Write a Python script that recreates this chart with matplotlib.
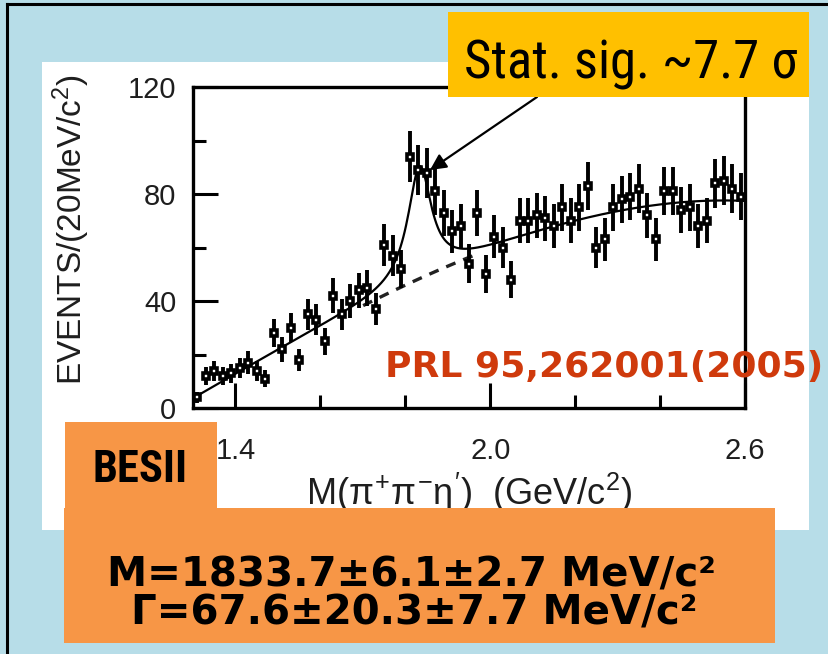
import numpy as np
import matplotlib
matplotlib.use("Agg")
import matplotlib.pyplot as plt
from matplotlib.patches import Rectangle
from matplotlib.lines import Line2D
from matplotlib import font_manager

W, H = 829, 654

# 20 MeV bins of M(pi+ pi- eta') between 1.30 and 2.60 GeV
bin_lo, bin_hi, bin_w = 1.30, 2.60, 0.02
events = [4, 12, 14, 12, 13, 15, 17, 14, 11, 28,
          22, 30, 18, 35, 33, 25, 42, 35, 40, 44,
          45, 37, 61, 57, 52, 94, 89, 88, 81, 73,
          66, 68, 54, 73, 50, 64, 60, 48, 70, 70,
          72, 71, 68, 75, 70, 75, 83, 60, 63, 75,
          78, 79, 82, 72, 63, 81, 81, 74, 75, 68,
          70, 84, 85, 82, 79]

# fitted resonance (values quoted on the slide) and background
res_mass, res_width, res_height = 1833.7, 67.6, 42.0
bkg_m = [1.30, 1.40, 1.48, 1.60, 1.73, 1.76, 1.89, 1.98, 2.23, 2.40, 2.60]
bkg_n = [5, 11, 19, 30, 40, 43, 54, 59, 70, 75, 78]

xticks_major = [1.4, 2.0, 2.6]
xticks_minor = [1.6, 1.8, 2.2, 2.4]
yticks_major = [0, 40, 80, 120]
yticks_minor = [20, 60, 100]

mass_line = "M=1833.7±6.1±2.7 MeV/c²"
width_line = "Γ=67.6±20.3±7.7 MeV/c²"


def pick(*names):
    for n in names:
        try:
            font_manager.findfont(font_manager.FontProperties(family=n),
                                  fallback_to_default=False)
            return n
        except ValueError:
            pass
    return "DejaVu Sans"


narrow = pick("Liberation Sans Narrow", "Roboto Condensed", "Roboto")
sans = pick("Liberation Sans", "DejaVu Sans")

plt.rcParams["font.family"] = [sans, "DejaVu Sans"]
plt.rcParams["mathtext.fontset"] = "custom"
plt.rcParams["mathtext.rm"] = sans
plt.rcParams["mathtext.it"] = sans


def fx(x):
    return x / W


def fy(y):
    return 1 - y / H


def box(fig, x0, y0, x1, y1, color, z):
    fig.add_artist(Rectangle((fx(x0), fy(y1)), (x1 - x0) / W, (y1 - y0) / H,
                             transform=fig.transFigure, facecolor=color,
                             edgecolor="none", zorder=z))


fig = plt.figure(figsize=(W / 100, H / 100), dpi=100)
fig.patch.set_facecolor("#b7dde8")
fig.add_artist(Line2D([fx(7), fx(7)], [0, fy(4)], color="black", lw=2.2))
fig.add_artist(Line2D([fx(7), 1], [fy(4), fy(4)], color="black", lw=2.2))
box(fig, 42, 62, 809, 530, "white", -1)

ax = fig.add_axes([fx(193), fy(408), (745 - 193) / W, (408 - 87) / H])
ax.set_facecolor("white")

centres = np.round(np.arange(bin_lo + bin_w / 2, bin_hi, bin_w), 3)
counts = np.array(events, dtype=float)

m = np.linspace(bin_lo, bin_hi, 400)
bkg = np.polyval(np.polyfit(bkg_m, bkg_n, 3), m)
half = res_width / 2000.0
sig = res_height * half ** 2 / ((m - res_mass / 1000.0) ** 2 + half ** 2)
ax.plot(m, bkg + sig, color="black", lw=1.6, zorder=2)
dash = (m > 1.70) & (m < 1.97)
ax.plot(m[dash], bkg[dash], color="#222222", lw=2.4, ls=(0, (3, 2.5)), zorder=2)

ax.errorbar(centres, counts, yerr=np.sqrt(counts), fmt="s", ms=4.8,
            mfc="white", mec="black", mew=2.6, ecolor="black",
            elinewidth=2.8, capsize=0, zorder=3)

ax.set_xlim(bin_lo, bin_hi)
ax.set_ylim(0, 120)
ax.set_xticks(xticks_major)
ax.set_xticks(xticks_minor, minor=True)
ax.set_yticks(yticks_major)
ax.set_yticks(yticks_minor, minor=True)
ax.set_xticklabels([f"{v:.1f}" for v in xticks_major])
ax.tick_params(which="both", direction="in", width=2.2, color="black",
               labelsize=21, labelcolor="#1e1e1e")
ax.tick_params(which="major", length=18)
ax.tick_params(which="minor", length=9.5)
ax.tick_params(axis="x", pad=21)
ax.tick_params(axis="y", pad=12)
for s in ax.spines.values():
    s.set_linewidth(2.4)

fig.text(fx(71), fy(230), r"EVENTS/(20MeV/c$^2$)", rotation=90,
         ha="center", va="center", fontsize=24, color="#1e1e1e")
fig.text(fx(469), fy(493), r"M($\pi^{+}\pi^{-}\eta^{\prime}$)  (GeV/c$^{2}$)",
         ha="center", va="center", fontsize=26, color="#1e1e1e")

fig.text(fx(385), fy(377), "PRL 95,262001(2005)", ha="left", va="baseline",
         fontsize=26, fontweight="bold", color="#cf3a0c",
         family=["DejaVu Sans"], zorder=6)

# boxes on top of the figure
box(fig, 448, 12, 809, 97, "#ffc000", 5)
fig.text(fx(631), fy(78), "Stat. sig. ~7.7 σ", ha="center", va="baseline",
         fontsize=38, color="black", family=[narrow, "DejaVu Sans"], zorder=6)
ax.annotate("", xy=(430, H - 170), xytext=(537, H - 97),
            xycoords="figure pixels", textcoords="figure pixels",
            arrowprops=dict(arrowstyle="-|>", color="black", lw=1.6,
                            mutation_scale=24, shrinkA=0, shrinkB=0))

box(fig, 65, 422, 217, 508, "#f79646", 5)
fig.text(fx(140), fy(482), "BESII", ha="center", va="baseline", fontsize=32,
         fontweight="bold", color="black", family=[narrow, "DejaVu Sans"],
         zorder=6)

box(fig, 64, 508, 775, 643, "#f79646", 5)
fig.text(fx(411), fy(586), mass_line, ha="center", va="baseline", fontsize=29,
         fontweight="bold", color="black", family=["DejaVu Sans"], zorder=6)
fig.text(fx(414), fy(625), width_line, ha="center", va="baseline", fontsize=29,
         fontweight="bold", color="black", family=["DejaVu Sans"], zorder=6)

fig.savefig("out.png", dpi=100)
